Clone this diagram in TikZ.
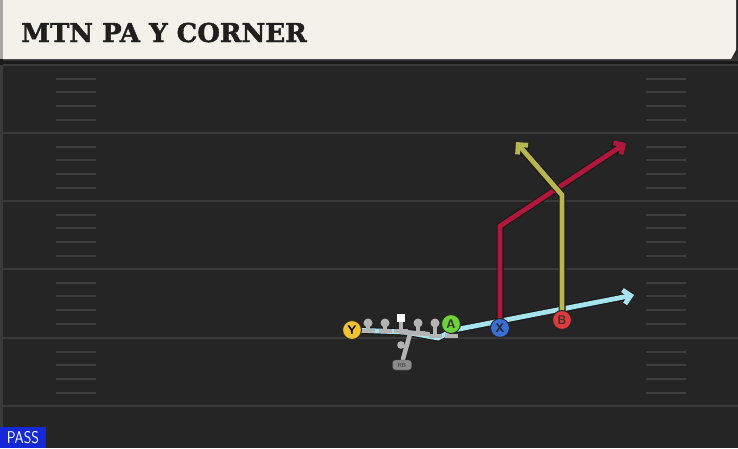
\documentclass[tikz,border=0pt]{standalone}
\usepackage{fontspec}
\setmainfont{DejaVu Sans}
\newfontfamily\titlefont[BoldFeatures={FakeBold=1.5}]{DejaVu Serif}
\usetikzlibrary{arrows.meta}
\definecolor{fieldbg}{HTML}{252525}
\definecolor{fieldline}{HTML}{3A3A3A}
\definecolor{hashc}{HTML}{3E3E3E}
\definecolor{cream}{HTML}{F4F1EA}
\definecolor{redr}{HTML}{B0173A}
\definecolor{yelr}{HTML}{B8B64E}
\definecolor{bluer}{HTML}{A8E4F0}
\definecolor{ycol}{HTML}{F2C12E}
\definecolor{acol}{HTML}{6FD13A}
\definecolor{xcol}{HTML}{3A6FD8}
\definecolor{bcol}{HTML}{E0393E}
\definecolor{olgray}{HTML}{B4B4B4}
\definecolor{passblue}{HTML}{1428D8}
\tikzset{
  routeout/.style={line width=7pt, draw=black!90, line join=miter, -{Straight Barb[length=7pt,width=14pt,line width=7pt]}},
  routein/.style={line width=4.8pt, line join=miter, -{Straight Barb[length=7pt,width=14pt,line width=4.8pt]}},
  player/.style={circle, minimum size=19pt, inner sep=0pt, draw=black!85, line width=1pt, font=\sffamily\bfseries\fontsize{12.5}{12.5}\selectfont},
  yardline/.style={draw=fieldline, line width=2pt},
  hashmark/.style={draw=hashc, line width=1.6pt},
  olpart/.style={fill=olgray},
  grayleg/.style={draw=olgray, line width=4.5pt, line cap=round}
}
\begin{document}
\begin{tikzpicture}[x=1pt,y=-1pt]
\useasboundingbox (0,0) rectangle (738,448);
\fill[fieldbg] (0,0) rectangle (738,448);
\fill[black!90] (0,59) rectangle (738,65);
\fill[fieldbg!90!white] (0,65) rectangle (3,448);
% yard lines
\foreach \yy in {65,133,201,269,338,406}
  \draw[yardline] (3,\yy) -- (738,\yy);
% hash marks
\foreach \yy in {65,133,201,269,338}{
  \foreach \dd in {14,27,41,55}{
    \draw[hashmark] (56,\yy+\dd) -- (96,\yy+\dd);
    \draw[hashmark] (646,\yy+\dd) -- (686,\yy+\dd);
  }
}
% header
\fill[black!80] (3,57) -- (734,57) -- (738,52) -- (738,61) -- (3,61) -- cycle;
\fill[cream] (3,0) -- (736,0) -- (736,50) -- (731,59) -- (3,59) -- cycle;
\fill[black!35] (0,0) rectangle (3,59);
\node[anchor=base west, inner sep=0pt, font=\titlefont\bfseries\fontsize{26}{26}\selectfont, text=black!88] (title) at (21,42) {MTN PA Y CORNER};
% player positions
\coordinate (pY) at (352,330);
\coordinate (pA) at (451,324);
\coordinate (pX) at (500,328);
\coordinate (pB) at (562,320);
% route points
\coordinate (b1) at (405,332);
\coordinate (b2) at (438,338);
\coordinate (b3) at (454,330);
\coordinate (bE) at (634,295);
\coordinate (x1) at (500,226);
\coordinate (xE) at (626,143);
\coordinate (y1) at (562,195);
\coordinate (yE) at (516,142);
% routes
\draw[routeout] (pY) -- (b1) -- (b2) -- (b3) -- (bE);
\draw[routein, draw=bluer] (pY) -- (b1) -- (b2) -- (b3) -- (bE);
\draw[routeout] (pX) -- (x1) -- (xE);
\draw[routein, draw=redr] (pX) -- (x1) -- (xE);
\draw[routeout] (pB) -- (y1) -- (yE);
\draw[routein, draw=yelr] (pB) -- (y1) -- (yE);
% gray backfield action
\draw[grayleg] (401,332) -- (428,334);
\draw[grayleg] (410,334) -- (403,359);
\fill[olgray] (401,345) circle (3.8);
% linemen
\foreach \lx/\by in {368/329, 385/329, 418/331, 435/334}{
  \fill[olpart] (\lx,323) circle (4.5);
  \fill[olpart] (\lx-2,323) rectangle (\lx+2,\by);
  \fill[olpart] (\lx-6.5,\by) rectangle (\lx+6.5,\by+3.5);
}
% center
\fill[olpart] (399,318) rectangle (403,332);
\fill[olpart] (394,329) rectangle (408,333);
\fill[white] (397,314) rectangle (405,322);
% A stance bar
\fill[olpart] (445,334) rectangle (458,338);
\fill[olpart] (449,325) rectangle (453,335);
% RB
\node[draw=black!70, fill=black!45, rounded corners=3pt, minimum width=19pt, minimum height=10pt, inner sep=0pt, font=\sffamily\fontsize{6}{6}\selectfont, text=black!80] (RB) at (402,365) {RB};
% players
\node[player, fill=ycol, text=black] (Y) at (pY) {Y};
\node[player, fill=acol, text=black!80] (A) at (pA) {A};
\node[player, fill=xcol, text=black!85] (X) at (pX) {X};
\node[player, fill=bcol, text=black!80] (B) at (pB) {B};
% pass label
\fill[passblue] (0,427) rectangle (46,448);
\node[anchor=center, inner sep=0pt, font=\sffamily\fontsize{17}{17}\selectfont, text=white, xscale=0.86] (pass) at (23,438) {PASS};
\end{tikzpicture}
\end{document}
